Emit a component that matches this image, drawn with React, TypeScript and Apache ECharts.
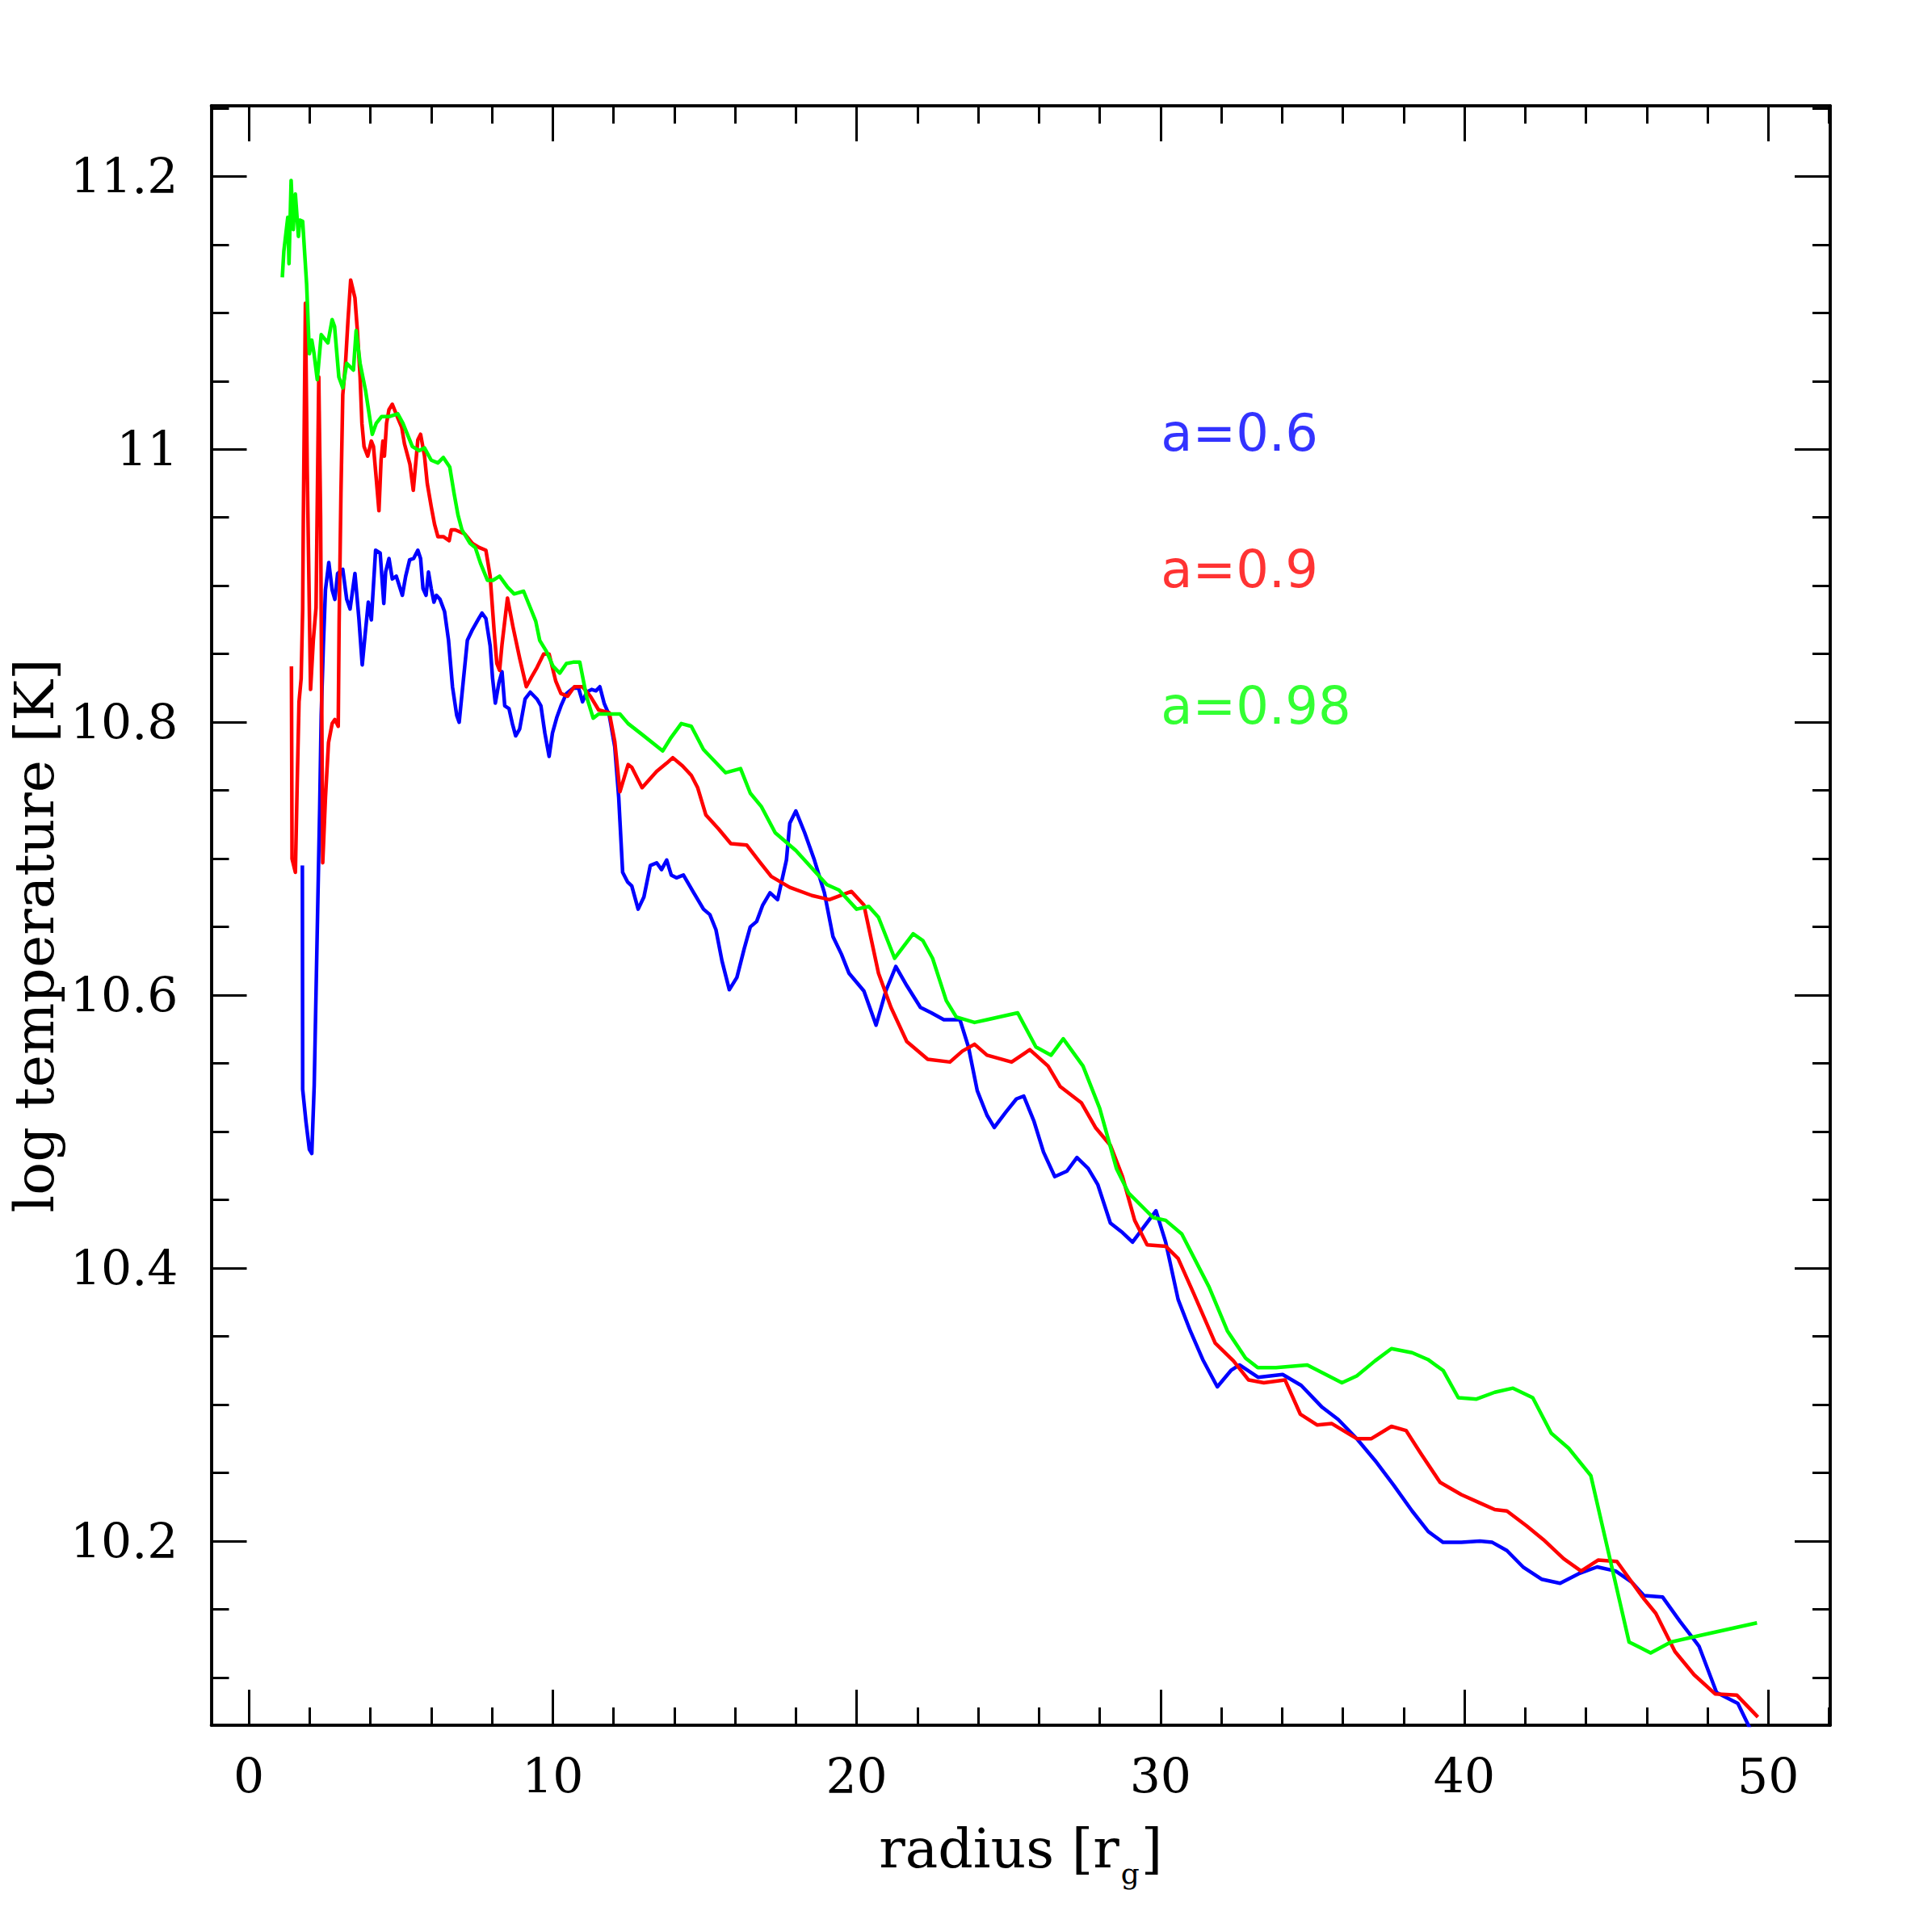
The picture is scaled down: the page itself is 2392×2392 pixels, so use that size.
import React, { useEffect, useRef } from "react";
import * as echarts from "echarts";

// a = 0.6 (blue)
const radiusA06 = [1.76,1.77,1.88,1.99,2.07,2.15,2.21,2.27,2.33,2.38,2.45,2.52,2.63,2.74,2.83,2.92,3.09,3.22,3.33,3.49,3.62,3.73,3.82,3.93,4.03,4.17,4.32,4.44,4.50,4.61,4.72,4.85,5.05,5.16,5.29,5.42,5.56,5.65,5.73,5.83,5.91,6.00,6.09,6.17,6.29,6.44,6.57,6.70,6.84,6.92,7.05,7.19,7.36,7.54,7.67,7.80,7.94,8.02,8.11,8.23,8.33,8.42,8.56,8.67,8.78,8.91,9.09,9.26,9.48,9.61,9.74,9.88,9.99,10.14,10.27,10.45,10.67,10.85,10.98,11.11,11.28,11.42,11.55,11.69,11.86,12.04,12.17,12.30,12.46,12.6,12.81,13.0,13.21,13.42,13.58,13.75,13.9,14.07,14.3,14.64,14.96,15.17,15.37,15.57,15.81,16.06,16.3,16.5,16.71,16.91,17.15,17.4,17.69,17.8,18.0,18.29,18.61,18.94,19.22,19.5,19.75,20.24,20.64,20.96,21.29,21.65,22.1,22.46,22.87,23.4,23.68,23.97,24.29,24.53,24.9,25.26,25.5,25.83,26.15,26.52,26.92,27.25,27.62,27.94,28.35,28.75,29.08,29.48,29.85,30.17,30.58,30.98,31.39,31.87,32.32,32.6,33.21,34.02,34.63,35.32,35.85,36.46,37.06,37.67,38.28,38.81,39.3,39.9,40.51,40.92,41.4,41.93,42.54,43.15,43.76,44.37,44.98,45.5,45.91,46.52,47.1,47.72,48.3,49.0,49.5];
const tempA06 = [10.695,10.531,10.507,10.487,10.484,10.534,10.602,10.670,10.737,10.805,10.856,10.897,10.917,10.897,10.890,10.909,10.912,10.890,10.883,10.909,10.876,10.842,10.863,10.888,10.875,10.926,10.924,10.887,10.910,10.920,10.905,10.907,10.893,10.907,10.919,10.920,10.926,10.920,10.898,10.893,10.910,10.898,10.888,10.893,10.890,10.881,10.860,10.826,10.805,10.800,10.829,10.860,10.868,10.875,10.880,10.876,10.856,10.832,10.814,10.829,10.837,10.812,10.810,10.799,10.790,10.795,10.817,10.822,10.817,10.812,10.792,10.775,10.792,10.804,10.812,10.821,10.825,10.825,10.815,10.822,10.824,10.823,10.826,10.814,10.805,10.782,10.745,10.690,10.683,10.680,10.663,10.672,10.695,10.697,10.692,10.699,10.688,10.686,10.688,10.675,10.663,10.659,10.648,10.625,10.604,10.613,10.634,10.650,10.654,10.666,10.675,10.670,10.699,10.726,10.735,10.719,10.699,10.675,10.643,10.630,10.616,10.603,10.578,10.603,10.621,10.607,10.591,10.587,10.582,10.582,10.562,10.530,10.512,10.503,10.514,10.524,10.526,10.508,10.485,10.467,10.471,10.481,10.473,10.461,10.433,10.426,10.419,10.431,10.442,10.419,10.377,10.354,10.333,10.313,10.325,10.329,10.320,10.322,10.314,10.298,10.289,10.275,10.259,10.241,10.222,10.207,10.199,10.199,10.200,10.199,10.193,10.181,10.172,10.169,10.176,10.181,10.178,10.170,10.160,10.159,10.141,10.123,10.089,10.081,10.058];

// a = 0.9 (red)
const radiusA09 = [1.40,1.41,1.42,1.53,1.59,1.65,1.72,1.77,1.79,1.86,1.92,2.03,2.12,2.21,2.30,2.36,2.43,2.52,2.62,2.74,2.83,2.94,2.97,3.03,3.09,3.18,3.26,3.35,3.49,3.57,3.66,3.72,3.79,3.91,4.03,4.10,4.19,4.28,4.35,4.41,4.46,4.53,4.61,4.72,4.90,5.03,5.12,5.30,5.41,5.50,5.56,5.65,5.78,5.87,6.00,6.11,6.22,6.40,6.59,6.66,6.79,7.10,7.36,7.58,7.80,7.94,8.07,8.16,8.25,8.33,8.51,8.69,8.91,9.13,9.30,9.48,9.70,9.88,10.10,10.27,10.49,10.71,10.98,11.24,11.51,11.86,12.04,12.21,12.48,12.6,12.94,13.42,13.75,13.95,14.27,14.56,14.77,15.04,15.45,15.86,16.38,16.83,17.19,17.8,18.53,19.1,19.83,20.24,20.72,21.13,21.65,22.34,23.07,23.48,23.88,24.29,25.1,25.7,26.3,26.7,27.4,27.86,28.35,28.75,29.15,29.56,30.17,30.58,31.1,31.8,32.4,32.9,33.4,34.1,34.6,35.16,35.64,36.46,36.94,37.6,38.08,38.57,39.2,39.9,40.5,41.0,41.4,42.05,42.6,43.27,43.84,44.4,45.02,45.86,46.3,46.93,47.56,48.25,48.97,49.66];
const tempA09 = [10.841,10.772,10.700,10.690,10.755,10.815,10.832,10.883,10.945,11.107,10.985,10.824,10.860,10.884,11.053,10.950,10.697,10.745,10.785,10.799,10.802,10.797,10.873,10.968,11.040,11.063,11.094,11.124,11.111,11.087,11.053,11.019,11.002,10.995,11.006,11.002,10.979,10.955,10.992,11.006,10.995,11.019,11.029,11.033,11.023,11.016,11.004,10.989,10.970,10.992,11.007,11.011,10.995,10.975,10.958,10.945,10.936,10.936,10.933,10.941,10.941,10.938,10.931,10.928,10.926,10.907,10.867,10.843,10.838,10.857,10.891,10.870,10.847,10.826,10.833,10.840,10.850,10.850,10.830,10.821,10.819,10.826,10.826,10.819,10.809,10.807,10.786,10.749,10.769,10.767,10.752,10.764,10.770,10.774,10.768,10.761,10.752,10.732,10.722,10.711,10.710,10.697,10.687,10.679,10.673,10.670,10.676,10.666,10.616,10.591,10.566,10.553,10.551,10.559,10.564,10.556,10.551,10.560,10.548,10.533,10.521,10.503,10.490,10.467,10.435,10.417,10.416,10.407,10.381,10.345,10.332,10.318,10.316,10.318,10.293,10.285,10.286,10.275,10.275,10.284,10.281,10.264,10.243,10.234,10.228,10.223,10.222,10.211,10.201,10.187,10.178,10.186,10.185,10.159,10.147,10.119,10.102,10.088,10.087,10.071];

// a = 0.98 (green)
const radiusA098 = [1.10,1.15,1.28,1.32,1.39,1.46,1.53,1.63,1.68,1.77,1.90,1.99,2.07,2.145,2.25,2.38,2.60,2.74,2.82,2.96,3.09,3.22,3.44,3.53,3.66,3.84,4.06,4.19,4.37,4.63,4.90,5.07,5.38,5.60,5.78,6.00,6.22,6.40,6.61,6.75,6.88,7.01,7.28,7.45,7.63,7.85,8.03,8.25,8.51,8.73,9.04,9.26,9.44,9.57,9.79,10.01,10.23,10.45,10.67,10.89,11.11,11.33,11.51,11.86,12.21,12.48,12.94,13.62,13.87,14.23,14.56,14.96,15.69,16.18,16.50,16.87,17.32,18.00,19.02,19.42,20.0,20.4,20.72,21.25,21.86,22.18,22.5,22.95,23.28,23.88,24.29,25.3,25.9,26.4,26.8,27.45,28.0,28.55,28.95,29.76,30.17,30.7,31.6,32.2,32.8,33.2,33.8,34.83,35.97,36.46,37.06,37.6,38.28,38.8,39.3,39.8,40.4,41.0,41.6,42.25,42.86,43.43,44.16,45.42,46.13,46.8,47.8,49.63];
const tempA098 = [11.126,11.145,11.170,11.136,11.197,11.161,11.187,11.156,11.168,11.167,11.121,11.070,11.080,11.070,11.051,11.084,11.078,11.095,11.090,11.053,11.045,11.063,11.058,11.087,11.063,11.043,11.011,11.019,11.024,11.024,11.026,11.019,11.002,10.999,11.001,10.992,10.990,10.994,10.987,10.968,10.952,10.941,10.931,10.928,10.916,10.904,10.904,10.907,10.899,10.894,10.896,10.884,10.874,10.860,10.852,10.841,10.836,10.843,10.844,10.844,10.819,10.803,10.806,10.806,10.806,10.799,10.791,10.779,10.788,10.799,10.797,10.780,10.763,10.766,10.748,10.738,10.719,10.706,10.681,10.677,10.663,10.665,10.657,10.627,10.645,10.640,10.627,10.596,10.584,10.580,10.582,10.587,10.562,10.556,10.568,10.548,10.517,10.473,10.455,10.437,10.435,10.425,10.386,10.354,10.334,10.327,10.327,10.329,10.316,10.321,10.332,10.341,10.338,10.333,10.325,10.305,10.304,10.309,10.312,10.305,10.279,10.268,10.248,10.126,10.118,10.126,10.131,10.140];

const xMajorTicks = [0, 10, 20, 30, 40, 50];
const xMinorTicks = [2, 4, 6, 8, 12, 14, 16, 18, 22, 24, 26, 28, 32, 34, 36, 38, 42, 44, 46, 48, 52];
const yMajorTicks = [10.2, 10.4, 10.6, 10.8, 11, 11.2];
const yMinorTicks = [10.1, 10.15, 10.25, 10.3, 10.35, 10.45, 10.5, 10.55, 10.65, 10.7, 10.75, 10.85, 10.9, 10.95, 11.05, 11.1, 11.15, 11.25];

const spinLabels = ["a=0.6", "a=0.9", "a=0.98"];
const spinLabelRadius = [30, 30, 30];
const spinLabelTemp = [11.0, 10.9, 10.8];
const lineColors = ["#0000ff", "#ff0000", "#00ff00"];

const X_MIN = -1.24;
const X_MAX = 52.04;
const Y_MIN = 10.065;
const Y_MAX = 11.2517;

const SERIF = "DejaVu Serif";
const SANS = "DejaVu Sans";

function zip(xs: number[], ys: number[]) {
  return xs.map((x, i) => [x, ys[i]]);
}

function tickAxis(position: string, ticks: number[], len: number, min: number, max: number, extra: any = {}) {
  return {
    type: "value",
    position,
    min,
    max,
    splitLine: { show: false },
    axisLine: { show: true, onZero: false, lineStyle: { color: "#000", width: 3.5 } },
    axisTick: { show: true, inside: true, length: len, customValues: ticks, lineStyle: { color: "#000", width: 3 } },
    axisLabel: { show: false },
    ...extra,
  };
}

export default function App() {
  const ref = useRef<HTMLDivElement>(null);
  useEffect(() => {
    document.body.style.margin = "0";
    if (!ref.current) return;
    const chart = echarts.init(ref.current, null, { renderer: "svg" });
    const fmt = (v: number) => String(Number(v.toFixed(2)));
    const option: any = {
      animation: false,
      backgroundColor: "#ffffff",
      grid: { left: 260, top: 131, right: 126, bottom: 256, containLabel: false },
      xAxis: [
        tickAxis("bottom", xMajorTicks, 44, X_MIN, X_MAX, {
          axisLabel: {
            show: true,
            customValues: xMajorTicks,
            margin: 33,
            fontFamily: SERIF,
            fontSize: 60,
            color: "#000",
            formatter: fmt,
          },
          name: "{t|radius [r}{s|g}{t|]}",
          nameLocation: "middle",
          nameGap: 103,
          nameTextStyle: {
            rich: {
              t: { fontFamily: SERIF, fontSize: 68, color: "#000" },
              s: { fontFamily: SERIF, fontSize: 36, color: "#000", padding: [62, 2, 0, 2] },
            },
          },
        }),
        tickAxis("bottom", xMinorTicks, 22, X_MIN, X_MAX),
        tickAxis("top", xMajorTicks, 44, X_MIN, X_MAX),
        tickAxis("top", xMinorTicks, 22, X_MIN, X_MAX),
      ],
      yAxis: [
        tickAxis("left", yMajorTicks, 44, Y_MIN, Y_MAX, {
          axisLabel: {
            show: true,
            customValues: yMajorTicks,
            margin: 41,
            fontFamily: SERIF,
            fontSize: 60,
            color: "#000",
            formatter: fmt,
          },
          name: "log temperature [K]",
          nameLocation: "middle",
          nameGap: 184,
          nameRotate: 90,
          nameTextStyle: { fontFamily: SERIF, fontSize: 68, color: "#000", padding: [0, 50, 0, 0] },
        }),
        tickAxis("left", yMinorTicks, 22, Y_MIN, Y_MAX),
        tickAxis("right", yMajorTicks, 44, Y_MIN, Y_MAX),
        tickAxis("right", yMinorTicks, 22, Y_MIN, Y_MAX),
      ],
      series: [
        { name: spinLabels[0], data: zip(radiusA06, tempA06), color: lineColors[0] },
        { name: spinLabels[1], data: zip(radiusA09, tempA09), color: lineColors[1] },
        { name: spinLabels[2], data: zip(radiusA098, tempA098), color: lineColors[2] },
      ].map((s) => ({
        type: "line",
        name: s.name,
        data: s.data,
        xAxisIndex: 0,
        yAxisIndex: 0,
        showSymbol: false,
        symbol: "none",
        clip: true,
        silent: true,
        lineStyle: { color: s.color, width: 4.5, join: "round" },
        itemStyle: { color: s.color },
        z: 2,
      })).concat([
        {
          type: "scatter",
          name: "labels",
          xAxisIndex: 0,
          yAxisIndex: 0,
          symbolSize: 1,
          silent: true,
          itemStyle: { color: "rgba(0,0,0,0)" },
          data: spinLabels.map((t, i) => ({
            value: [spinLabelRadius[i], spinLabelTemp[i]],
            label: {
              show: true,
              formatter: t,
              position: "right",
              distance: 0,
              offset: [0, -20],
              color: lineColors[i],
              fontFamily: SANS,
              fontSize: 64,
            },
          })),
          z: 3,
        } as any,
      ]),
    };
    chart.setOption(option);
    return () => chart.dispose();
  }, []);
  return <div ref={ref} style={{ width: 2392, height: 2392 }} />;
}
